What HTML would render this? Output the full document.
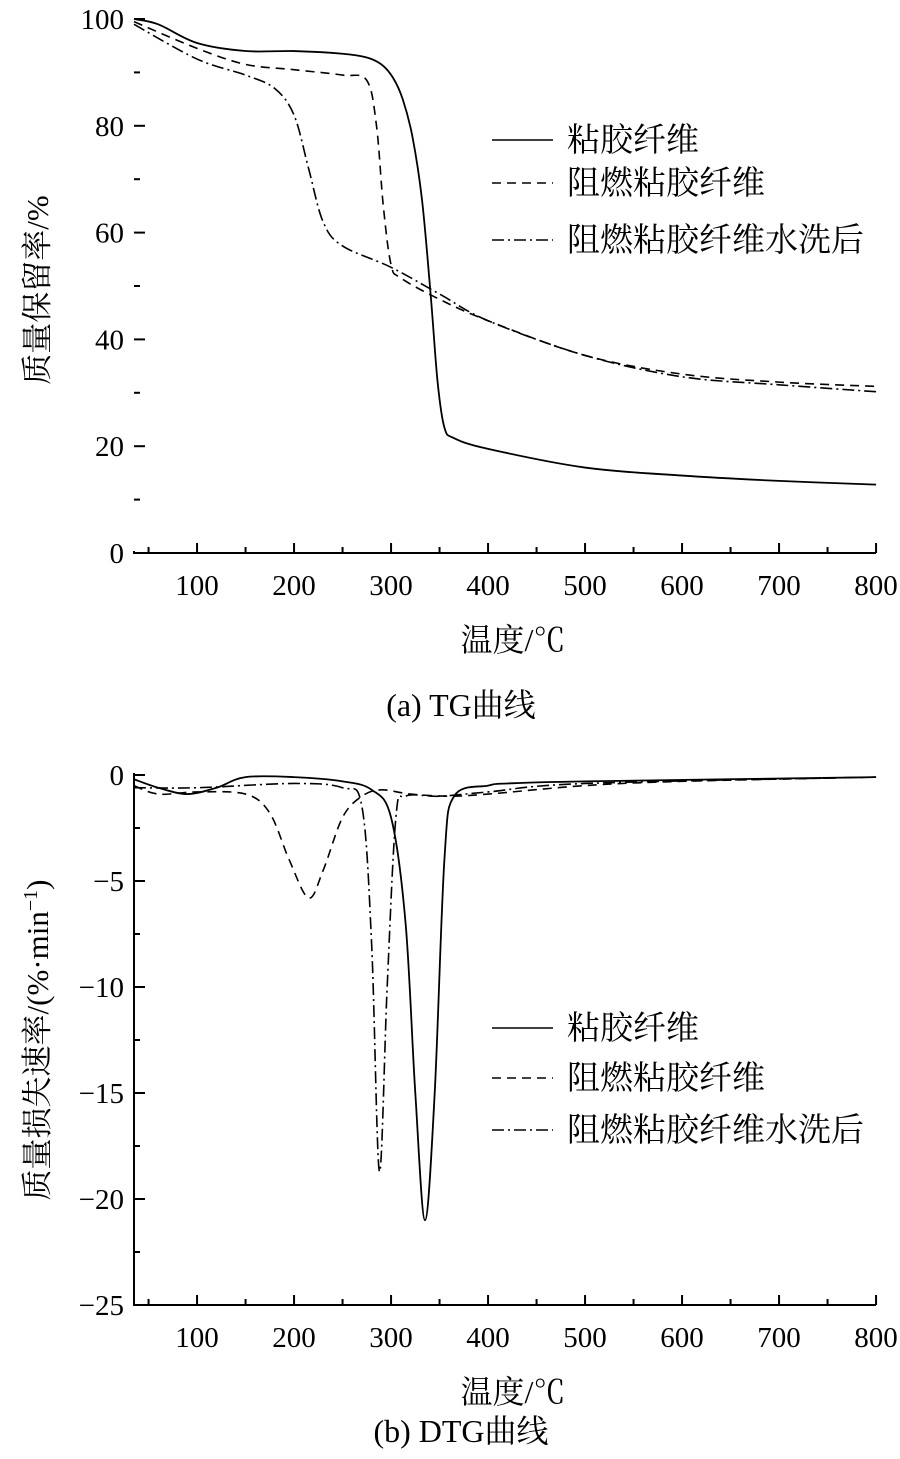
<!DOCTYPE html><html><head><meta charset="utf-8"><style>
body{margin:0;background:#fff;width:900px;height:1454px;overflow:hidden}
text{font-family:"Liberation Serif","Noto Serif CJK SC",serif;fill:#000}
</style></head><body>
<svg id="svg" width="900" height="1454" xmlns="http://www.w3.org/2000/svg"></svg>
<script>
const xTicks=[100,200,300,400,500,600,700,800];
const tgYTicks=[0,20,40,60,80,100];
const dtgYTicks=[0,-5,-10,-15,-20,-25];
const legendLabels=["粘胶纤维","阻燃粘胶纤维","阻燃粘胶纤维水洗后"];
const tgX1=[35,60,100,150,200,250,275,290,302,312,322,332,341,348,355,365,400,500,600,700,800];
const tgViscose=[100,99,95.5,94,94,93.5,92.8,91.5,89,85,78,66,48,32,23.5,21.5,19.5,16,14.5,13.5,12.8];
const tgX2=[35,100,150,200,250,275,285,292,300,310,350,400,500,600,700,800];
const tgFR=[99.5,94.5,91.5,90.5,89.5,88.5,80,65,54,51.5,47.5,43.5,37,33.5,32,31.2];
const tgX3=[35,100,150,180,200,215,230,250,300,350,400,500,600,700,800];
const tgWashed=[99,92.5,89.5,87,82,72,62,57.5,53.5,48.5,43.5,37,33,31.5,30.2];
const dtgX1=[35,60,90,120,150,200,250,280,300,315,325,335,345,355,365,400,420,500,800];
const dtgViscose=[-0.2,-0.6,-0.9,-0.6,-0.1,-0.1,-0.3,-0.7,-2,-7,-15,-21,-15,-4,-1,-0.5,-0.4,-0.3,-0.1];
const dtgX2=[35,60,100,150,175,195,215,230,250,270,290,320,360,400,500,600,800];
const dtgFR=[-0.5,-0.9,-0.8,-0.9,-1.8,-4,-5.8,-4.5,-2,-1,-0.7,-0.9,-1,-0.9,-0.5,-0.3,-0.1];
const dtgX3=[35,100,200,250,270,280,288,296,305,315,350,400,500,800];
const dtgWashed=[-0.6,-0.6,-0.4,-0.6,-1.5,-8,-18.7,-10,-2,-1,-1,-0.8,-0.4,-0.1];

const NS="http://www.w3.org/2000/svg",svg=document.getElementById('svg');
function mk(t,a,p){const e=document.createElementNS(NS,t);for(const k in a)e.setAttribute(k,a[k]);(p||svg).appendChild(e);return e;}
const xs=v=>134+(v-35)*0.97;
const dashes=["","9,6","12,4,2,4"];
function smooth(pts){let d=`M${pts[0][0]},${pts[0][1]}`;for(let i=0;i<pts.length-1;i++){const p0=pts[i-1]||pts[i],p1=pts[i],p2=pts[i+1],p3=pts[i+2]||p2;d+=` C${p1[0]+(p2[0]-p0[0])/6},${p1[1]+(p2[1]-p0[1])/6} ${p2[0]-(p3[0]-p1[0])/6},${p2[1]-(p3[1]-p1[1])/6} ${p2[0]},${p2[1]}`;}return d;}
function panel(o){
  const g=mk('g',{});
  const ys=o.ys;
  mk('line',{x1:134,y1:ys(o.yTicks[0])-2,x2:134,y2:o.bottom+1,stroke:'#000','stroke-width':2},g);
  mk('line',{x1:133,y1:o.bottom,x2:876,y2:o.bottom,stroke:'#000','stroke-width':2},g);
  for(let v=50;v<=800;v+=50){const x=xs(v);mk('line',{x1:x,y1:o.bottom,x2:x,y2:o.bottom-(v%100?6:10),stroke:'#000','stroke-width':2},g);}
  xTicks.forEach(v=>{const t=mk('text',{x:xs(v),y:o.bottom+42,'font-size':29,'text-anchor':'middle'},g);t.textContent=v;});
  o.yTicks.forEach((v,i)=>{const y=ys(v);mk('line',{x1:134,y1:y,x2:145,y2:y,stroke:'#000','stroke-width':2},g);
    if(i<o.yTicks.length-1){const m=ys(v+(o.yTicks[1]-o.yTicks[0])/2);mk('line',{x1:134,y1:m,x2:140,y2:m,stroke:'#000','stroke-width':2},g);}
    const t=mk('text',{x:124,y:y+10,'font-size':29,'text-anchor':'end'},g);t.textContent=String(v).replace('-','−');});
  o.series.forEach((s,i)=>{const p=mk('path',{d:smooth(s[0].map((x,j)=>[xs(x),ys(s[1][j])])),fill:'none',stroke:'#000','stroke-width':i?1.6:1.8,'stroke-dasharray':dashes[i]},g);});
  legendLabels.forEach((l,i)=>{const y=o.legY[i];mk('line',{x1:492,y1:y,x2:553,y2:y,stroke:'#000','stroke-width':1.6,'stroke-dasharray':dashes[i]},g);const t=mk('text',{x:567,y:y+11,'font-size':33},g);t.textContent=l;});
  let t=mk('text',{x:513,y:o.bottom+98,'font-size':32,'text-anchor':'middle'},g);t.textContent='温度/℃';
  t=mk('text',{x:0,y:0,'font-size':31,'text-anchor':'middle',transform:`translate(48,${o.ymid}) rotate(-90)`},g);t.innerHTML=o.ytitle;
  t=mk('text',{x:461,y:o.cap,'font-size':32,'text-anchor':'middle'},g);t.textContent=o.caption;
}
panel({name:'tg-chart',ys:v=>553-v*5.34,bottom:553,yTicks:tgYTicks,series:[[tgX1,tgViscose],[tgX2,tgFR],[tgX3,tgWashed]],legY:[140,183,240],ymid:290,ytitle:'质量保留率/%',cap:716,caption:'(a) TG曲线'});
panel({name:'dtg-chart',ys:v=>775-v*21.2,bottom:1305,yTicks:dtgYTicks,series:[[dtgX1,dtgViscose],[dtgX2,dtgFR],[dtgX3,dtgWashed]],legY:[1028,1078,1130],ymid:1040,ytitle:'质量损失速率/(%·min<tspan dy="-11" font-size="20">−1</tspan><tspan dy="11">)</tspan>',cap:1442,caption:'(b) DTG曲线'});
</script></body></html>
